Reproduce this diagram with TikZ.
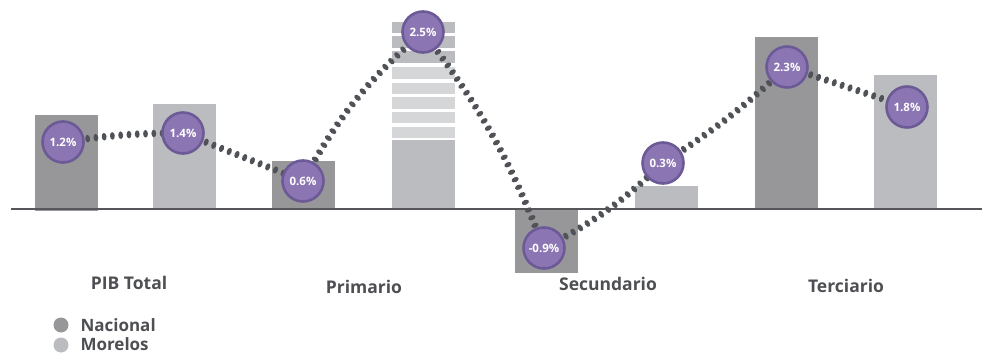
\documentclass[tikz,border=0pt]{standalone}
\usepackage{fontspec}
\setmainfont{Open Sans}
\usetikzlibrary{decorations.markings}
\definecolor{nac}{HTML}{97979A}
\definecolor{mor}{HTML}{BBBCBF}
\definecolor{morlt}{HTML}{D5D6D8}
\definecolor{axisc}{HTML}{55575B}
\definecolor{dotc}{HTML}{4F5256}
\definecolor{purfill}{HTML}{8B76B3}
\definecolor{purdraw}{HTML}{6C5A96}
\definecolor{txtc}{HTML}{4D4F53}
\tikzset{
  bar/.style={fill=#1, draw=none},
  val/.style={circle, fill=purfill, draw=purdraw, line width=2.6pt, minimum size=41pt, inner sep=0pt,
    text=white, font=\fontsize{11.5}{13}\selectfont\bfseries},
  cat/.style={text=txtc, font=\fontsize{17.5}{20}\selectfont\bfseries},
  leg/.style={text=txtc, font=\fontsize{17}{19}\selectfont\bfseries, anchor=west},
  dotline/.style={decorate, decoration={markings,
    mark=between positions 0 and 1 step 8.3pt with {\fill[dotc] (0,0) ellipse (2.4pt and 3.8pt);}}}
}
\begin{document}
\begin{tikzpicture}[x=1pt,y=-1pt]
\useasboundingbox (0,0) rectangle (982,353);
% bars
\fill[bar=nac] (35,115) rectangle (98,211);
\fill[bar=mor] (153,104) rectangle (216,209);
\fill[bar=nac] (272,161) rectangle (335,209);
% striped Primario Morelos
\fill[bar=mor] (392,140) rectangle (455,209);
\fill[bar=mor] (392,22) rectangle (455,33.5);
\fill[bar=mor] (392,36.5) rectangle (455,48.5);
\fill[bar=mor] (392,51.5) rectangle (455,63.5);
\fill[bar=morlt] (392,67.5) rectangle (455,79);
\fill[bar=morlt] (392,82.5) rectangle (455,94);
\fill[bar=morlt] (392,97) rectangle (455,108.5);
\fill[bar=morlt] (392,112) rectangle (455,123);
\fill[bar=morlt] (392,126.5) rectangle (455,138);
\fill[bar=nac] (515,209) rectangle (578,273);
\fill[bar=mor] (635,186) rectangle (698,209);
\fill[bar=nac] (755,37) rectangle (818,209);
\fill[bar=mor] (874,75) rectangle (937,209);
% axis
\coordinate (ax1) at (11,209);
\coordinate (ax2) at (982,209);
\draw[axisc, line width=2pt] (ax1) -- (ax2);
% value positions
\coordinate (p1) at (63,142);
\coordinate (p2) at (183,133);
\coordinate (p3) at (303,181);
\coordinate (p4) at (423,32);
\coordinate (p5) at (544,248);
\coordinate (p6) at (663,163);
\coordinate (p7) at (787,67);
\coordinate (p8) at (907,107);
% dotted connector
\draw[dotline] (p1) to[bend left=4] (p2);
\draw[dotline] (p2) -- (p3);
\draw[dotline] (p3) to[bend left=10] (p4);
\draw[dotline] (p4) to[bend left=8] (p5);
\draw[dotline] (p5) to[bend right=8] (p6);
\draw[dotline] (p6) to[bend right=5] (p7);
\draw[dotline] (p7) -- (p8);
% value nodes
\node[val] (c1) at (p1) {1.2\%};
\node[val] (c2) at (p2) {1.4\%};
\node[val] (c3) at (p3) {0.6\%};
\node[val] (c4) at (p4) {2.5\%};
\node[val] (c5) at (p5) {-0.9\%};
\node[val] (c6) at (p6) {0.3\%};
\node[val] (c7) at (p7) {2.3\%};
\node[val] (c8) at (p8) {1.8\%};
% categories
\node[cat] (l1) at (129,283) {PIB Total};
\node[cat] (l2) at (364,287) {Primario};
\node[cat] (l3) at (608,284) {Secundario};
\node[cat] (l4) at (846,286) {Terciario};
% legend
\fill[nac] (61,325) circle (7.5);
\fill[mor] (61,345) circle (7.5);
\node[leg] (n1) at (77,325) {Nacional};
\node[leg] (n2) at (77,344) {Morelos};
\end{tikzpicture}
\end{document}
